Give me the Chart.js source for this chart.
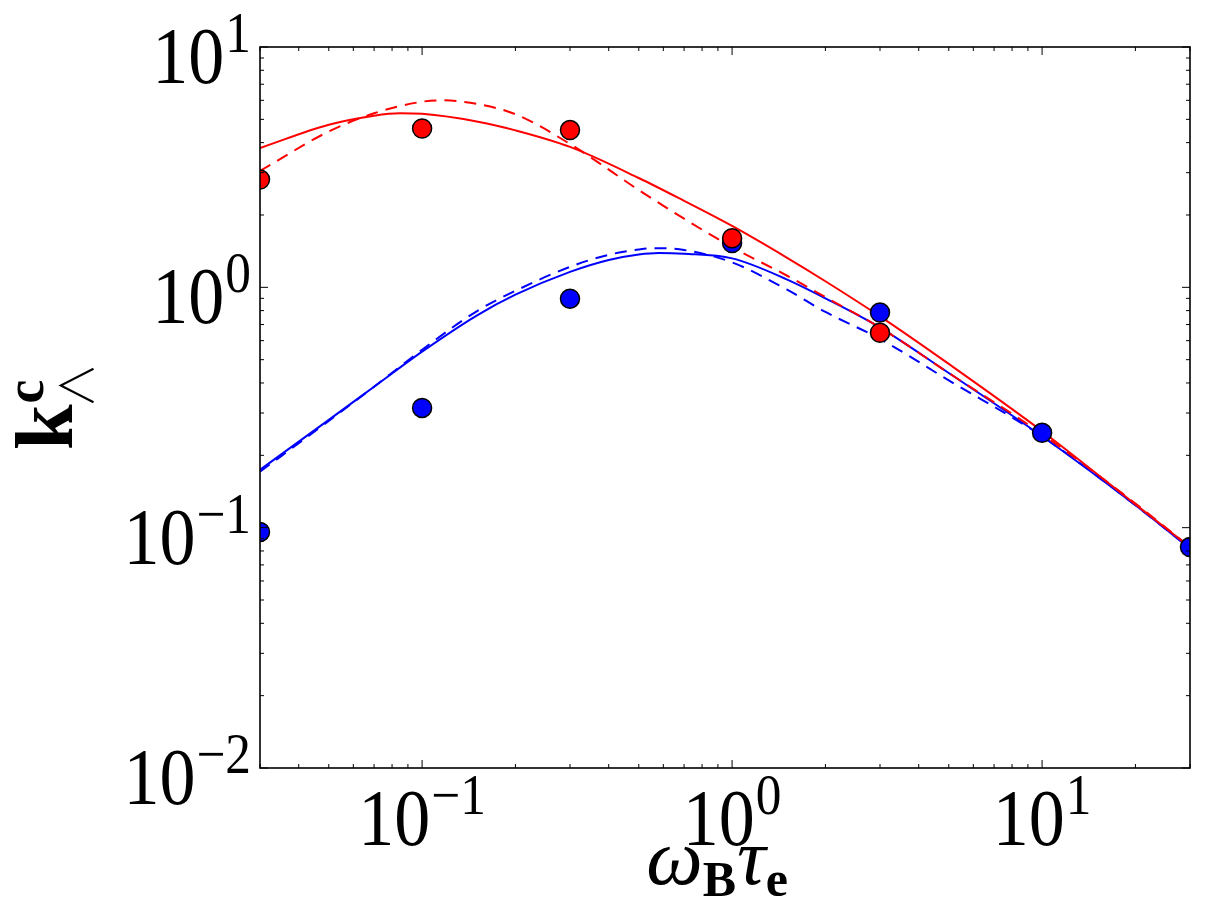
<!DOCTYPE html>
<html><head><meta charset="utf-8">
<script src="https://cdn.jsdelivr.net/npm/chart.js@4.4.1/dist/chart.umd.min.js"></script>
<style>html,body{margin:0;padding:0;background:#fff;}#wrap{width:1205px;height:919px;position:relative;}</style>
</head><body><div id="wrap"><canvas id="c" width="1205" height="919"></canvas></div>
<script>
// ---- data ----
const redSolidX = [0.03,0.05,0.07,0.085,0.1,0.15,0.2,0.3,0.5,0.7,1,1.5,2,3,5,10,20,30];
const redSolidY = [3.8,4.75,5.18,5.3,5.27,4.9,4.5,3.84,2.85,2.29,1.8,1.33,1.06,0.757,0.48,0.252,0.125,0.083];
const redDashX  = [0.03,0.05,0.07,0.1,0.115,0.15,0.2,0.3,0.5,0.7,1,1.5,2,3,5,10,20,30];
const redDashY  = [3.05,4.45,5.3,5.92,6.0,5.8,5.25,3.95,2.54,1.93,1.47,1.12,0.91,0.68,0.44,0.245,0.126,0.083];
const blueSolidX = [0.03,0.05,0.07,0.1,0.15,0.2,0.3,0.4,0.5,0.58,0.7,1,1.5,2,3,5,10,20,30];
const blueSolidY = [0.174,0.281,0.386,0.54,0.763,0.932,1.16,1.30,1.37,1.39,1.38,1.32,1.08,0.9,0.68,0.44,0.24,0.124,0.082];
const blueDashX  = [0.03,0.05,0.07,0.1,0.15,0.2,0.3,0.4,0.5,0.55,0.7,1,1.5,2,3,5,10,20,30];
const blueDashY  = [0.171,0.278,0.386,0.55,0.795,0.967,1.217,1.366,1.438,1.456,1.43,1.27,0.98,0.79,0.61,0.41,0.24,0.124,0.082];
const redPtsX  = [0.03,0.1,0.3,1,3];
const redPtsY  = [2.81,4.58,4.51,1.6,0.647];
const bluePtsX = [0.03,0.1,0.3,1,3,10,30];
const bluePtsY = [0.096,0.315,0.897,1.53,0.785,0.248,0.083];
const xTickVals = [0.1,1,10];
const xTickExps = ['\u22121','0','1'];
const yTickVals = [0.01,0.1,1,10];
const yTickExps = ['\u22122','\u22121','0','1'];
const xRange = [0.03,30];
const yRange = [0.01,10];

const pts = (xs, ys) => xs.map((x,i) => ({x, y: ys[i]}));
const RED = '#ff0000', BLUE = '#0000ff';

function lineDs(xs, ys, color, dashed, order){
  return {type:'line', data: pts(xs,ys), borderColor: color, borderWidth: 2,
    borderDash: dashed ? [12,8] : [], pointRadius: 0, fill:false, showLine:true,
    cubicInterpolationMode:'monotone', clip: 0, order};
}
function ptDs(xs, ys, color, order){
  return {type:'scatter', data: pts(xs,ys), backgroundColor: color, borderColor:'#000',
    borderWidth: 1.5, pointRadius: 9.5, showLine:false, clip: 0, order};
}

const BASE_FONT = '80px "Liberation Serif"';
const SUP_FONT = '57px "Liberation Serif"';
const SX = 0.9;
function drawPow(ctx, exp, x0, baseY, align){
  ctx.font = BASE_FONT; const bw = ctx.measureText('10').width * SX;
  ctx.font = SUP_FONT; const ew = ctx.measureText(exp).width * SX;
  const gap = 1;
  const total = bw + gap + ew;
  const left = align === 'center' ? x0 - total/2 : x0 - total;
  ctx.save(); ctx.translate(left, baseY); ctx.scale(SX, 1);
  ctx.font = BASE_FONT; ctx.fillText('10', 0, 0);
  ctx.font = SUP_FONT; ctx.fillText(exp, (bw+gap)/SX, -31);
  ctx.restore();
}

const decor = {
  id:'decor',
  afterDatasetsDraw(chart){
    const {ctx, chartArea:a, scales:{x, y}} = chart;
    ctx.save();
    ctx.strokeStyle = '#000'; ctx.lineWidth = 1;
    const seg = (x1,y1,x2,y2)=>{ctx.beginPath();ctx.moveTo(x1,y1);ctx.lineTo(x2,y2);ctx.stroke();};
    for (let e=-3; e<=2; e++) for (let m=1; m<=9; m++){
      const v = m*Math.pow(10,e); const len = m===1 ? 8 : 4;
      if (v >= xRange[0]*0.999 && v <= xRange[1]*1.001){
        const px = x.getPixelForValue(v);
        seg(px, a.bottom, px, a.bottom-len); seg(px, a.top, px, a.top+len);
      }
      if (v >= yRange[0]*0.999 && v <= yRange[1]*1.001){
        const py = y.getPixelForValue(v);
        seg(a.left, py, a.left+len, py); seg(a.right, py, a.right-len, py);
      }
    }
    ctx.lineWidth = 1.6;
    ctx.strokeRect(a.left, a.top, a.right-a.left, a.bottom-a.top);
    // tick labels
    ctx.fillStyle = '#000'; ctx.textAlign = 'left'; ctx.textBaseline = 'alphabetic';
    xTickVals.forEach((v,i)=> drawPow(ctx, xTickExps[i], x.getPixelForValue(v), a.bottom+77, 'center'));
    yTickVals.forEach((v,i)=> drawPow(ctx, yTickExps[i], a.left-9, y.getPixelForValue(v)+36, 'right'));
    // x title: omega_B tau_e
    const parts = [
      {t:'\u03C9', f:'italic 80px "Liberation Serif"', dy:0, g:0},
      {t:'B', f:'bold 50px "Liberation Serif"', dy:12, g:1},
      {t:'\u03C4', f:'italic 80px "Liberation Serif"', dy:0, g:0},
      {t:'e', f:'bold 50px "Liberation Serif"', dy:12, g:0}
    ];
    let tw = 0; parts.forEach(p=>{ctx.font=p.f; p.w=ctx.measureText(p.t).width; tw+=p.w+p.g;});
    let cx = (a.left+a.right)/2 - 8 - tw/2;
    const tb = 884;
    parts.forEach(p=>{ctx.font=p.f; ctx.fillText(p.t, cx, tb+p.dy); cx += p.w+p.g;});
    // y title: k^c_wedge (rotated)
    ctx.save();
    ctx.translate(72, 450); ctx.rotate(-Math.PI/2);
    ctx.font = 'bold 82px "Liberation Serif"'; ctx.fillText('k', 0, 0);
    const kw = ctx.measureText('k').width;
    ctx.font = 'bold 54px "Liberation Serif"'; ctx.fillText('c', kw+1, -29);
    ctx.font = '300 46px "Noto Sans CJK JP"'; ctx.fillText('\u2227', kw-4, 21);
    ctx.restore();
    ctx.restore();
  }
};

new Chart(document.getElementById('c'), {
  data: { datasets: [
    lineDs(blueDashX, blueDashY, BLUE, true, 5),
    lineDs(blueSolidX, blueSolidY, BLUE, false, 4),
    lineDs(redDashX, redDashY, RED, true, 3),
    lineDs(redSolidX, redSolidY, RED, false, 2),
    ptDs(bluePtsX, bluePtsY, BLUE, 1),
    ptDs(redPtsX, redPtsY, RED, 0)
  ]},
  options: {
    responsive:false, animation:false, devicePixelRatio:1,
    layout:{padding:{left:260, top:47, right:15, bottom:151}},
    plugins:{legend:{display:false}, tooltip:{enabled:false}},
    scales:{
      x:{type:'logarithmic', min:xRange[0], max:xRange[1], display:false},
      y:{type:'logarithmic', min:yRange[0], max:yRange[1], display:false}
    }
  },
  plugins:[decor]
});
</script></body></html>
